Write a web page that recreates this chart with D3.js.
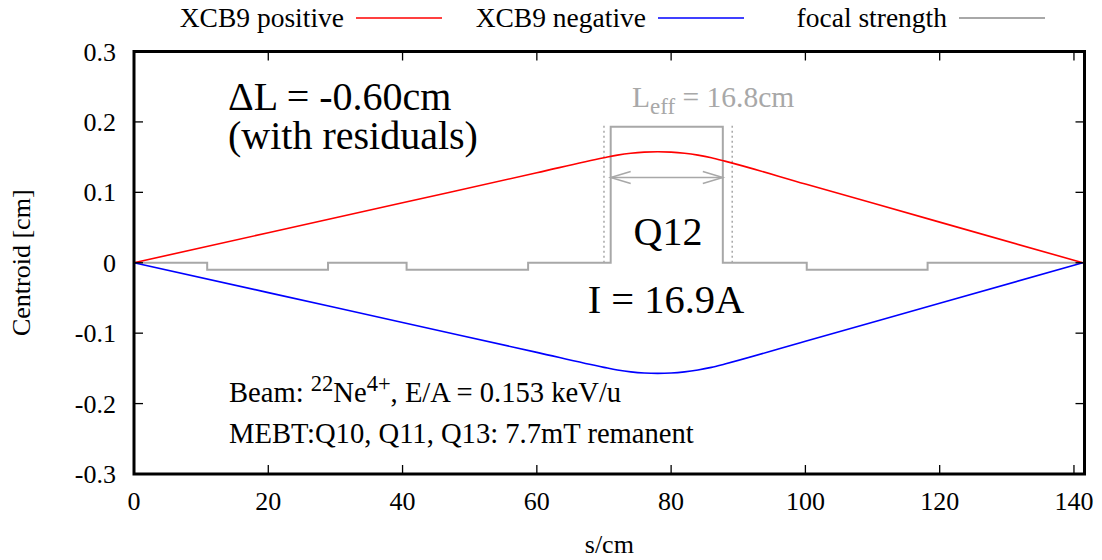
<!DOCTYPE html>
<html>
<head>
<meta charset="utf-8">
<script src="https://cdn.jsdelivr.net/npm/d3@7"></script>
<style>
  html, body { margin: 0; padding: 0; background: #fff; }
  svg { display: block; }
  text { font-family: "Liberation Serif", "Times New Roman", serif; fill: #000; }
</style>
</head>
<body>
<svg id="chart" width="1102" height="560"></svg>
<script>
// Beam centroid along the line, s in cm
const sCentroid = [0, 20, 40, 60, 70, 72, 74, 76, 78, 80, 82, 84, 86, 88, 100, 120, 141.3];
const xcb9Positive = [0, 0.0426, 0.0852, 0.1278, 0.1491, 0.1528, 0.1555, 0.1571, 0.1576, 0.1571, 0.1555, 0.1528, 0.1491, 0.1443, 0.1118, 0.0577, 0];
const xcb9Negative = [0, -0.0424, -0.0849, -0.1273, -0.1486, -0.1523, -0.1550, -0.1566, -0.1571, -0.1566, -0.1550, -0.1523, -0.1486, -0.1438, -0.1114, -0.0575, 0];

// Focal strength profile (step function: value holds from s until the next s)
const sFocal = [0, 10.9, 28.9, 40.6, 58.7, 71.0, 87.7, 100.2, 118.2, 141.3];
const focalStrength = [0, -0.01, 0, -0.01, 0, 0.193, 0, -0.01, 0, 0];

// Q12 effective length marks
const leffStart = 71.0, leffEnd = 87.7, leffArrowY = 0.121;
const dottedEdges = [70.0, 89.1];
const dottedTop = 0.196;

const xTicks = [0, 20, 40, 60, 80, 100, 120, 140];
const yTicks = [-0.3, -0.2, -0.1, 0, 0.1, 0.2, 0.3];
const yTickLabels = ["-0.3", "-0.2", "-0.1", "0", "0.1", "0.2", "0.3"];

const seriesNames = ["XCB9 positive", "XCB9 negative", "focal strength"];
const seriesColors = ["#ff0000", "#0000ff", "#a8a8a8"];

const svg = d3.select("#chart");
const plot = { left: 134, right: 1084.5, top: 51.5, bottom: 474 };

const x = d3.scaleLinear().domain([0, 141.57]).range([plot.left, plot.right]);
const y = d3.scaleLinear().domain([-0.3, 0.3]).range([plot.bottom, plot.top]);

// focal strength steps
const focalPts = sFocal.map((s, i) => [s, focalStrength[i]]);
svg.append("path")
  .datum(focalPts)
  .attr("d", d3.line().x(d => x(d[0])).y(d => y(d[1])).curve(d3.curveStepAfter))
  .attr("fill", "none").attr("stroke", seriesColors[2]).attr("stroke-width", 2);

// dotted quadrupole edges
dottedEdges.forEach(s => {
  svg.append("line")
    .attr("x1", x(s)).attr("x2", x(s))
    .attr("y1", y(0)).attr("y2", y(dottedTop))
    .attr("stroke", "#a8a8a8").attr("stroke-width", 1.5)
    .attr("stroke-dasharray", "2,3");
});

// double-headed arrow for L_eff
const ay = y(leffArrowY);
const ax1 = x(leffStart), ax2 = x(leffEnd);
const headL = 20, headW = 6;
const arrowG = svg.append("g").attr("stroke", "#a8a8a8").attr("stroke-width", 1.5).attr("fill", "none");
arrowG.append("line").attr("x1", ax1).attr("x2", ax2).attr("y1", ay).attr("y2", ay);
arrowG.append("path").attr("d", `M${ax1 + headL},${ay - headW}L${ax1},${ay}L${ax1 + headL},${ay + headW}`);
arrowG.append("path").attr("d", `M${ax2 - headL},${ay - headW}L${ax2},${ay}L${ax2 - headL},${ay + headW}`);

// centroid curves
const line = d3.line().x(d => x(d[0])).y(d => y(d[1])).curve(d3.curveMonotoneX);
[xcb9Positive, xcb9Negative].forEach((vals, k) => {
  svg.append("path")
    .datum(sCentroid.map((s, i) => [s, vals[i]]))
    .attr("d", line)
    .attr("fill", "none").attr("stroke", seriesColors[k]).attr("stroke-width", 1.6);
});

// ticks (inward, mirrored)
const tickLen = 9;
const tg = svg.append("g").attr("stroke", "#000").attr("stroke-width", 1.3);
xTicks.forEach(t => {
  tg.append("line").attr("x1", x(t)).attr("x2", x(t)).attr("y1", plot.bottom).attr("y2", plot.bottom - tickLen);
  tg.append("line").attr("x1", x(t)).attr("x2", x(t)).attr("y1", plot.top).attr("y2", plot.top + tickLen);
});
yTicks.forEach(t => {
  tg.append("line").attr("x1", plot.left).attr("x2", plot.left + tickLen).attr("y1", y(t)).attr("y2", y(t));
  tg.append("line").attr("x1", plot.right).attr("x2", plot.right - tickLen).attr("y1", y(t)).attr("y2", y(t));
});

// tick labels
svg.append("g").selectAll("text").data(xTicks).join("text")
  .attr("x", d => x(d)).attr("y", 510)
  .attr("text-anchor", "middle").attr("font-size", 26)
  .text(d => d);
svg.append("g").selectAll("text").data(yTicks).join("text")
  .attr("x", 116).attr("y", d => y(d) + 9)
  .attr("text-anchor", "end").attr("font-size", 26)
  .text((d, i) => yTickLabels[i]);

// axis titles
svg.append("text").attr("x", x(70.8)).attr("y", 553)
  .attr("text-anchor", "middle").attr("font-size", 26).text("s/cm");
svg.append("text").attr("transform", `translate(30,${y(0)}) rotate(-90)`)
  .attr("text-anchor", "middle").attr("font-size", 26).text("Centroid [cm]");

// frame
svg.append("rect")
  .attr("x", plot.left).attr("y", plot.top)
  .attr("width", plot.right - plot.left).attr("height", plot.bottom - plot.top)
  .attr("fill", "none").attr("stroke", "#000").attr("stroke-width", 3);

// legend
const legendTextEnd = [344, 646, 947];
seriesNames.forEach((name, i) => {
  svg.append("text").attr("x", legendTextEnd[i]).attr("y", 27)
    .attr("text-anchor", "end").attr("font-size", 27.5).text(name);
  svg.append("line")
    .attr("x1", legendTextEnd[i] + 12).attr("x2", legendTextEnd[i] + 98)
    .attr("y1", 18).attr("y2", 18)
    .attr("stroke", seriesColors[i]).attr("stroke-width", i === 2 ? 2 : 1.6);
});

// annotations: run condition, two lines in one block
const runLabel = svg.append("text").attr("x", 228).attr("y", 110).attr("font-size", 40);
runLabel.append("tspan").attr("x", 228).text("\u0394L = -0.60cm");
runLabel.append("tspan").attr("x", 228).attr("dy", 39).text("(with residuals)");

const leffLabel = svg.append("text").attr("x", 632).attr("y", 107).attr("font-size", 29.5).style("fill", "#a8a8a8");
leffLabel.append("tspan").text("L");
leffLabel.append("tspan").attr("dy", 7).attr("font-size", 23).text("eff");
leffLabel.append("tspan").attr("dy", -7).text(" = 16.8cm");

svg.append("text").attr("x", 668).attr("y", 245).attr("text-anchor", "middle").attr("font-size", 40).text("Q12");
svg.append("text").attr("x", 666).attr("y", 313).attr("text-anchor", "middle").attr("font-size", 40.5).text("I = 16.9A");

const beam = svg.append("text").attr("x", 229).attr("y", 402).attr("font-size", 28.6);
beam.append("tspan").text("Beam: ");
beam.append("tspan").attr("dy", -11).attr("font-size", 22.5).text("22");
beam.append("tspan").attr("dy", 11).text("Ne");
beam.append("tspan").attr("dy", -11).attr("font-size", 22.5).text("4+");
beam.append("tspan").attr("dy", 11).text(", E/A = 0.153 keV/u");

svg.append("text").attr("x", 229).attr("y", 443).attr("font-size", 28.6).text("MEBT:Q10, Q11, Q13: 7.7mT remanent");
</script>
</body>
</html>
